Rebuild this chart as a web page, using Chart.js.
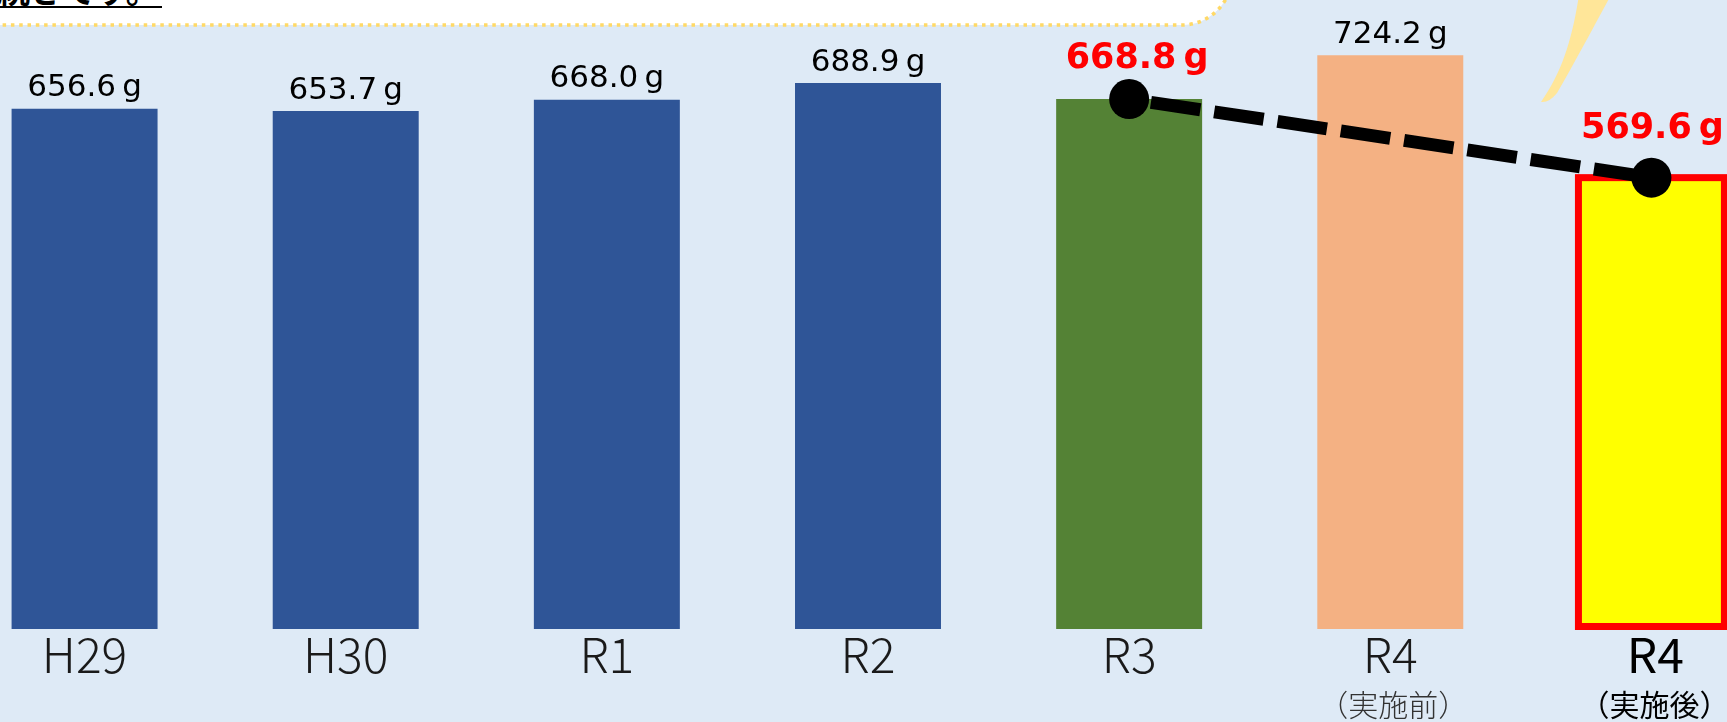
<!DOCTYPE html>
<html><head><meta charset="utf-8">
<script src="https://cdn.jsdelivr.net/npm/chart.js@4.4.1/dist/chart.umd.min.js"></script>
<style>
html,body{margin:0;padding:0;width:1727px;height:722px;overflow:hidden;background:#DEEAF6;}
#stage{position:absolute;left:0;top:0;width:1727px;height:722px;overflow:hidden;}
#deco{position:absolute;left:0;top:0;width:1727px;height:722px;}
#note{position:absolute;left:-3px;top:-27px;font-family:"Noto Sans CJK JP";font-weight:700;font-size:33px;line-height:33px;white-space:nowrap;border-bottom:2px solid #000;color:#000;padding-right:3px;}
#wrap{position:absolute;left:-45.6px;top:0;width:1828px;height:722px;}
</style></head><body>
<div id="stage">
<svg id="deco" width="1727" height="722" viewBox="0 0 1727 722">
  <path d="M -20 -100 L 1232 -100 L 1232 -25 A 50 50 0 0 1 1182 25 L -20 25 Z" fill="#ffffff" stroke="#FFD966" stroke-width="3.5" stroke-dasharray="3.5 4.8"/>
  <path d="M 1579 -5 C 1572 40 1562 72 1541 102 Q 1549 103 1557 93 C 1575 62 1592 30 1611 -5 Z" fill="#FFE699"/>
</svg>
<div id="note">続きです。</div>
<div id="wrap"><canvas id="c"></canvas></div>
</div>
<script>
// ---- data ----
const categories = ['H29', 'H30', 'R1', 'R2', 'R3', 'R4', 'R4'];
const subLabels  = ['', '', '', '', '', '（実施前）', '（実施後）'];
const barValues  = [656.6, 653.7, 668.0, 688.9, 668.8, 724.2, 569.6];
const lineValues = [null, null, null, null, 668.8, null, 569.6];

// ---- styles ----
const barColors = ['#2F5597', '#2F5597', '#2F5597', '#2F5597', '#548235', '#F4B183', '#FFFF00'];
const highlightIndex = 6;
const redLabelGap = {4: 31, 6: 40};
const redLabelShift = {4: 8, 6: 1};

function fmt(v){ return v.toFixed(1) + '\u2009g'; }

function drawPropText(ctx, text, cx, y, size){
  const half = size * 0.5;
  const parts = [];
  let total = 0;
  for (const ch of text){
    let w;
    if (ch === '（' || ch === '）') w = half; else w = ctx.measureText(ch).width;
    parts.push([ch, w]); total += w;
  }
  let x = cx - total / 2;
  ctx.textAlign = 'left';
  for (const [ch, w] of parts){
    if (ch === '（') ctx.fillText(ch, x - half, y);
    else ctx.fillText(ch, x, y);
    x += w;
  }
}

const borderPlugin = {
  id: 'highlightBorder',
  afterDatasetDraw(chart, args){
    if (args.index !== 0) return;
    const el = chart.getDatasetMeta(0).data[highlightIndex];
    const ctx = chart.ctx;
    ctx.save();
    ctx.strokeStyle = '#FF0000';
    ctx.lineWidth = 7;
    const bottom = el.base - 2.5;
    ctx.strokeRect(el.x - el.width / 2, el.y, el.width, bottom - el.y);
    ctx.restore();
  }
};

const labelPlugin = {
  id: 'labels',
  afterDatasetsDraw(chart){
    const ctx = chart.ctx;
    const barMeta = chart.getDatasetMeta(0);
    const lineMeta = chart.getDatasetMeta(1);
    ctx.save();
    ctx.textBaseline = 'alphabetic';
    ctx.textAlign = 'center';
    barValues.forEach((v, i) => {
      if (lineValues[i] != null) return;
      const el = barMeta.data[i];
      ctx.font = '31px "DejaVu Sans"';
      ctx.fillStyle = '#000';
      ctx.fillText(fmt(v), el.x, el.y - 12.5);
    });
    lineValues.forEach((v, i) => {
      if (v == null) return;
      const el = lineMeta.data[i];
      ctx.font = 'bold 35px "DejaVu Sans"';
      ctx.fillStyle = '#FF0000';
      ctx.fillText(fmt(v), el.x + (redLabelShift[i] || 0), el.y - (redLabelGap[i] || 30));
    });
    const xs = chart.scales.x;
    categories.forEach((c, i) => {
      const x = xs.getPixelForValue(i);
      const strong = i === highlightIndex;
      ctx.textAlign = 'center';
      ctx.fillStyle = strong ? '#000' : '#1a1a1a';
      ctx.font = (strong ? '400 ' : '300 ') + '48px "Noto Sans CJK JP"';
      ctx.fillText(c, x + (strong ? 4 : 0), 673);
      if (subLabels[i]){
        ctx.fillStyle = strong ? '#000' : '#333';
        ctx.font = (strong ? '400 ' : '300 ') + '30px "Noto Sans CJK JP"';
        drawPropText(ctx, subLabels[i], x + 3, 716, 30);
      }
    });
    ctx.restore();
  }
};

new Chart(document.getElementById('c'), {
  data: {
    labels: categories,
    datasets: [
      {
        type: 'bar',
        data: barValues,
        backgroundColor: barColors,
        borderWidth: 0,
        barPercentage: 0.559,
        categoryPercentage: 1,
        order: 2
      },
      {
        type: 'line',
        data: lineValues,
        spanGaps: true,
        borderColor: '#000',
        borderWidth: 13,
        borderDash: [50, 14],
        borderDashOffset: 42,
        borderCapStyle: 'butt',
        pointRadius: 20,
        pointBackgroundColor: '#000',
        pointBorderWidth: 0,
        tension: 0,
        order: 1,
        clip: false
      }
    ]
  },
  options: {
    responsive: true,
    maintainAspectRatio: false,
    animation: false,
    layout: { autoPadding: false, padding: { top: 3, bottom: 93, left: 0, right: 0 } },
    plugins: { legend: { display: false }, tooltip: { enabled: false } },
    scales: {
      x: { display: false },
      y: { display: false, min: 0, max: 790 }
    }
  },
  plugins: [borderPlugin, labelPlugin]
});
</script>
</body></html>
